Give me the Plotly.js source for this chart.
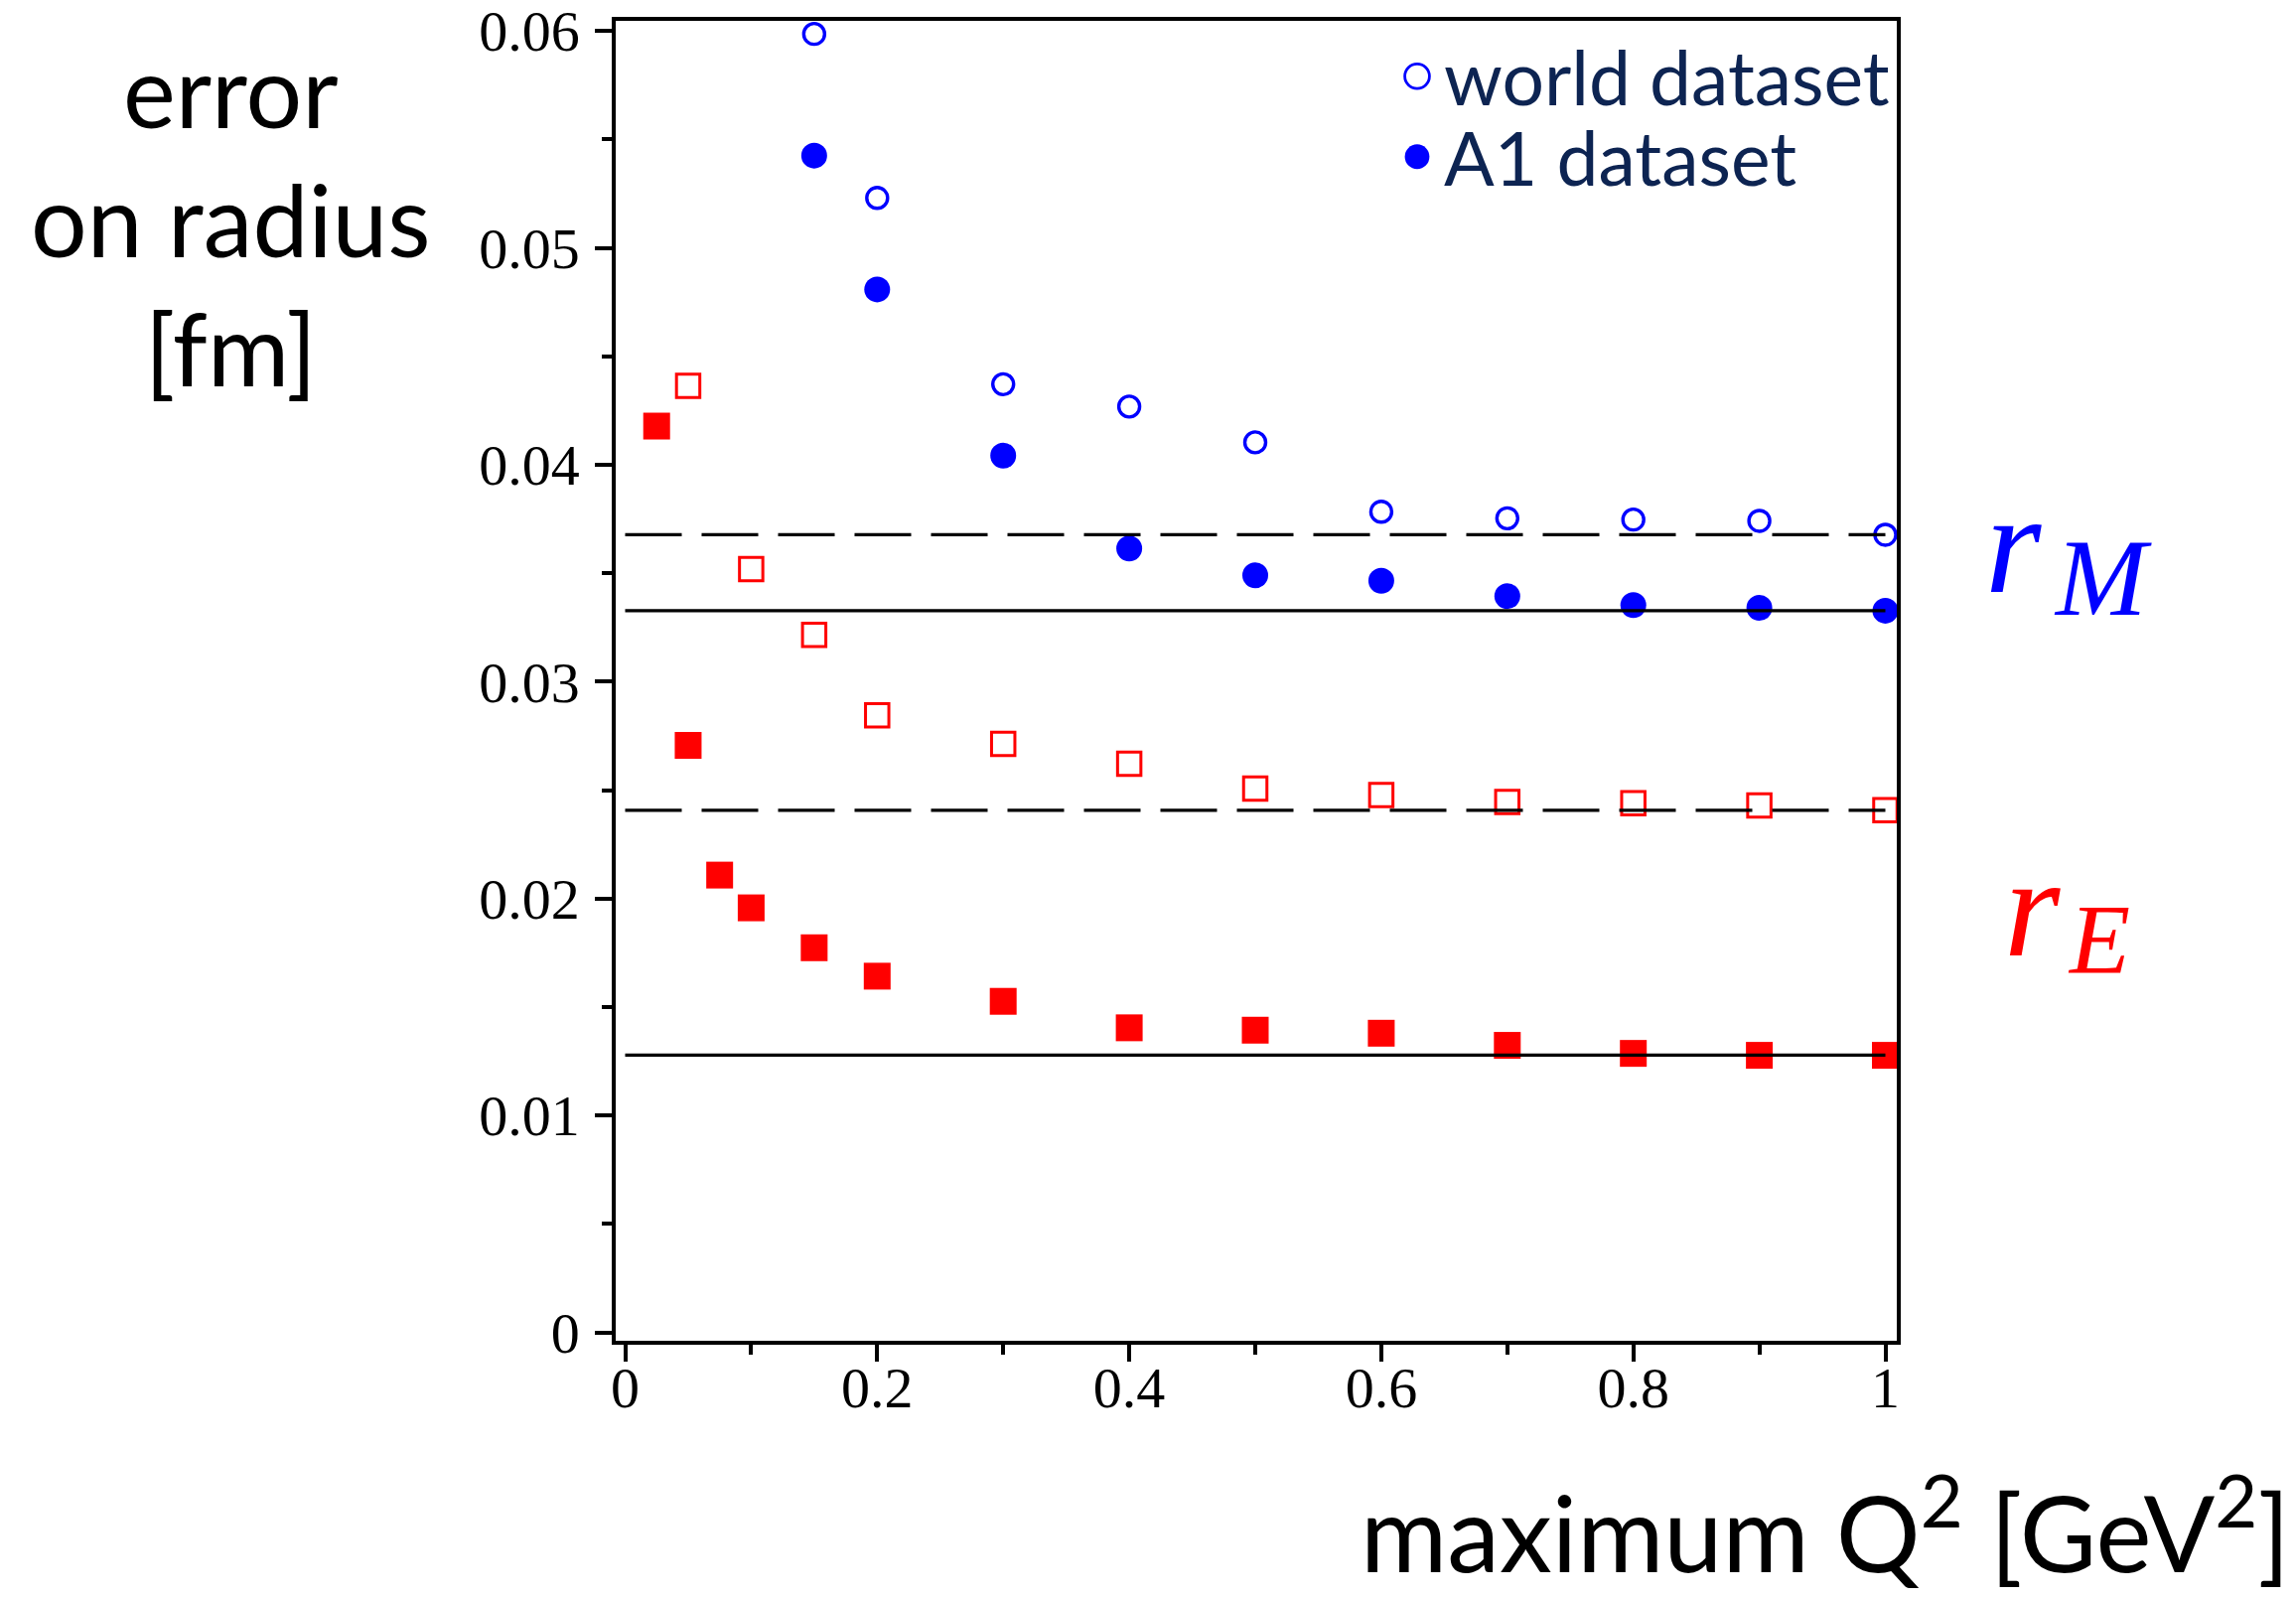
<!DOCTYPE html>
<html>
<head>
<meta charset="utf-8">
<script src="https://cdn.plot.ly/plotly-3.0.1.min.js"></script>
<style>
html, body { margin: 0; padding: 0; background: #ffffff; }
#chart { width: 2312px; height: 1609px; }
</style>
</head>
<body>
<div id="chart"></div>
<script>
// ---------------- data ----------------
const xWorldRM = [0.15, 0.2, 0.3, 0.4, 0.5, 0.6, 0.7, 0.8, 0.9, 1.0];
const yWorldRM = [0.05986, 0.0523, 0.04371, 0.04268, 0.04103, 0.03783, 0.03753, 0.03747, 0.03741, 0.03677];

const xA1RM = [0.15, 0.2, 0.3, 0.4, 0.5, 0.6, 0.7, 0.8, 0.9, 1.0];
const yA1RM = [0.05425, 0.04808, 0.04042, 0.03614, 0.0349, 0.03465, 0.03394, 0.03353, 0.0334, 0.03327];

const xWorldRE = [0.05, 0.1, 0.15, 0.2, 0.3, 0.4, 0.5, 0.6, 0.7, 0.8, 0.9, 1.0];
const yWorldRE = [0.04364, 0.03519, 0.03216, 0.02845, 0.02713, 0.02621, 0.02507, 0.02477, 0.02445, 0.02439, 0.02429, 0.02407];

const xA1RE = [0.025, 0.05, 0.075, 0.1, 0.15, 0.2, 0.3, 0.4, 0.5, 0.6, 0.7, 0.8, 0.9, 1.0];
const yA1RE = [0.04178, 0.02706, 0.02108, 0.01957, 0.01773, 0.01642, 0.01526, 0.01404, 0.01393, 0.01379, 0.01323, 0.01286, 0.01277, 0.01277];

// horizontal reference lines (value at maximum Q^2 = 1)
const refLineX = [0, 1];
const refWorldRM = 0.03677;
const refA1RM = 0.03327;
const refWorldRE = 0.02407;
const refA1RE = 0.01278;

const xTickVals = [0, 0.2, 0.4, 0.6, 0.8, 1];
const xTickText = ["0", "0.2", "0.4", "0.6", "0.8", "1"];
const xMinorVals = [0.1, 0.3, 0.5, 0.7, 0.9];
const yTickVals = [0, 0.01, 0.02, 0.03, 0.04, 0.05, 0.06];
const yTickText = ["0", "0.01", "0.02", "0.03", "0.04", "0.05", "0.06"];
const yMinorVals = [0.005, 0.015, 0.025, 0.035, 0.045, 0.055];

const legendWorld = "world dataset";
const legendA1 = "A1 dataset";
const yTitle = "error<br>on radius<br>[fm]";
const xTitle = "maximum Q<sup>2</sup> [GeV<sup>2</sup>]";

// ---------------- layout geometry ----------------
const W = 2312, H = 1609;
const L = 620, R = 1910, T = 21, B = 1350;
const PW = R - L, PH = B - T;
const px = x => (x - L) / PW;
const py = y => (B - y) / PH;

const BLUE = "#0000ff", RED = "#ff0000", NAVY = "#0d2452";
const DASH = "57px,20px";
const SANS = "Lato, Gill Sans, sans-serif";
const SERIF = "Liberation Serif, Times New Roman, serif";

const X_RANGE = [(L - 629.5) / 1269, (R - 629.5) / 1269];
const Y_RANGE = [-(B - 1341.5) / 21840, (1341.5 - T) / 21840];

function refLine(val, dash) {
  return {
    type: "scatter", mode: "lines", xaxis: "x2", yaxis: "y",
    x: refLineX, y: [val, val],
    line: {color: "#000000", width: 3.2, dash: dash},
    showlegend: false, hoverinfo: "skip"
  };
}

const traces = [
  refLine(refWorldRM, DASH),
  refLine(refA1RM, "solid"),
  refLine(refWorldRE, DASH),
  refLine(refA1RE, "solid"),
  {
    type: "scatter", mode: "markers", name: legendWorld,
    x: xWorldRM, y: yWorldRM,
    marker: {symbol: "circle-open", size: 21, color: BLUE, line: {color: BLUE, width: 3.4}},
    legend: "legend", showlegend: true
  },
  {
    type: "scatter", mode: "markers", name: legendA1,
    x: xA1RM, y: yA1RM,
    marker: {symbol: "circle", size: 26, color: BLUE, line: {width: 0}},
    legend: "legend2", showlegend: true
  },
  {
    type: "scatter", mode: "markers", name: legendWorld + " rE",
    x: xWorldRE, y: yWorldRE,
    marker: {symbol: "square-open", size: 23.5, color: RED, line: {color: RED, width: 3}},
    showlegend: false
  },
  {
    type: "scatter", mode: "markers", name: legendA1 + " rE",
    x: xA1RE, y: yA1RE,
    marker: {symbol: "square", size: 27, color: RED, line: {width: 0}},
    showlegend: false
  }
];

const tickFont = {family: SERIF, size: 58, color: "#000000"};
const legendFont = {family: SANS, size: 75, color: NAVY};

// text geometry helpers: centre of the text box for a wanted baseline
const sansCenter = (baseline, size) => baseline - 0.45 * size;
const serifCenter = (baseline, size) => baseline - 0.3375 * size;

const X_TITLE_SIZE = 100;
const X_TITLE_LEFT = 1368, X_TITLE_RIGHT = 2304, X_TITLE_BASE = 1583;

const layout = {
  width: W, height: H,
  margin: {l: L, r: W - R, t: T, b: H - B, pad: 0},
  paper_bgcolor: "#ffffff", plot_bgcolor: "#ffffff",
  showlegend: true,
  // x axis carrying the data scale and the tick labels (no line, no ticks)
  xaxis: {
    range: X_RANGE, anchor: "free", position: 0,
    tickmode: "array", tickvals: xTickVals, ticktext: xTickText,
    ticks: "", showline: false,
    showgrid: false, zeroline: false,
    tickfont: tickFont, ticklabelstandoff: 8, ticklabeloverflow: "allow"
  },
  // overlay x axis carrying the frame line and the major / minor tick marks
  xaxis2: {
    overlaying: "x", anchor: "y", side: "bottom",
    range: X_RANGE,
    tickmode: "array", tickvals: xTickVals,
    ticks: "outside", ticklen: 17, tickwidth: 4, tickcolor: "#000000",
    minor: {ticks: "outside", tickmode: "array", tickvals: xMinorVals, ticklen: 10, tickwidth: 4, tickcolor: "#000000", showgrid: false},
    showticklabels: false,
    showline: true, linewidth: 3.5, linecolor: "#000000", mirror: true,
    showgrid: false, zeroline: false
  },
  yaxis: {
    range: Y_RANGE, anchor: "x2",
    tickmode: "array", tickvals: yTickVals, ticktext: yTickText,
    ticks: "outside", ticklen: 17, tickwidth: 4, tickcolor: "#000000",
    minor: {ticks: "outside", tickmode: "array", tickvals: yMinorVals, ticklen: 10, tickwidth: 4, tickcolor: "#000000", showgrid: false},
    showline: true, linewidth: 3.5, linecolor: "#000000", mirror: true,
    showgrid: false, zeroline: false,
    tickfont: tickFont, ticklabelstandoff: 4, ticklabeloverflow: "allow"
  },
  legend: {
    x: px(1400), y: py(77), xanchor: "left", yanchor: "middle",
    bgcolor: "rgba(0,0,0,0)", borderwidth: 0,
    font: legendFont, itemwidth: 44
  },
  legend2: {
    x: px(1400), y: py(158), xanchor: "left", yanchor: "middle",
    bgcolor: "rgba(0,0,0,0)", borderwidth: 0,
    font: legendFont, itemwidth: 44
  },
  annotations: [
    {
      xref: "paper", yref: "paper", x: px(232), y: py(220),
      xanchor: "center", yanchor: "middle", showarrow: false, align: "center",
      text: yTitle,
      font: {family: SANS, size: 100, color: "#000000"}
    },
    {
      xref: "paper", yref: "paper", x: px(X_TITLE_LEFT), y: py(sansCenter(X_TITLE_BASE, X_TITLE_SIZE)),
      xanchor: "left", yanchor: "middle", showarrow: false,
      text: xTitle,
      font: {family: SANS, size: X_TITLE_SIZE, color: "#000000"}
    },
    {
      xref: "paper", yref: "paper", x: px(1997), y: py(serifCenter(596, 145)),
      xanchor: "left", yanchor: "middle", showarrow: false,
      text: "<i>r</i>",
      font: {family: SERIF, size: 145, color: BLUE}
    },
    {
      xref: "paper", yref: "paper", x: px(2066), y: py(serifCenter(619, 110)),
      xanchor: "left", yanchor: "middle", showarrow: false,
      text: "<i>M</i>",
      font: {family: SERIF, size: 110, color: BLUE}
    },
    {
      xref: "paper", yref: "paper", x: px(2016), y: py(serifCenter(962, 145)),
      xanchor: "left", yanchor: "middle", showarrow: false,
      text: "<i>r</i>",
      font: {family: SERIF, size: 145, color: RED}
    },
    {
      xref: "paper", yref: "paper", x: px(2080), y: py(serifCenter(979, 100)),
      xanchor: "left", yanchor: "middle", showarrow: false,
      text: "<i>E</i>",
      font: {family: SERIF, size: 100, color: RED}
    }
  ]
};

// legend symbols in the reference are larger than Plotly's legend cap (16px)
function enlargeLegendSymbols(gd) {
  const k = 1.55;
  gd.querySelectorAll(".legendpoints path.scatterpts").forEach(p => {
    const t = p.getAttribute("transform") || "";
    if (t.indexOf("scale") === -1) p.setAttribute("transform", t + " scale(" + k + ")");
    const sw = parseFloat(p.style.strokeWidth || "0");
    if (sw > 0) p.style.strokeWidth = (2.8 / k) + "px";
  });
}

Plotly.newPlot("chart", traces, layout, {displayModeBar: false, responsive: false}).then(gd => {
  // fit the x-axis title to the width it has in the reference
  const g = gd.querySelector('g.annotation[data-index="1"] text');
  const w = g ? g.getBBox().width : 0;
  if (!(w > 0)) { enlargeLegendSymbols(gd); return; }
  const size = X_TITLE_SIZE * (X_TITLE_RIGHT - X_TITLE_LEFT) / w;
  return Plotly.relayout(gd, {
    "annotations[1].font.size": size,
    "annotations[1].y": py(sansCenter(X_TITLE_BASE, size))
  }).then(() => enlargeLegendSymbols(gd));
});
</script>
</body>
</html>
